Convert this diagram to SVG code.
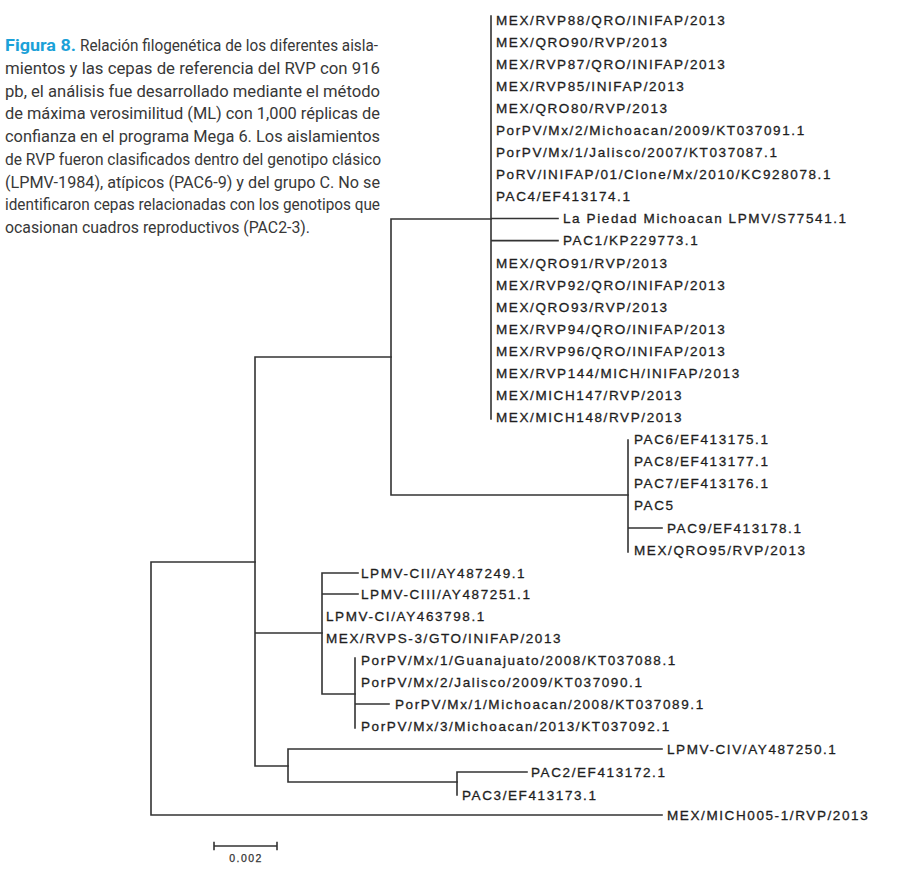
<svg xmlns="http://www.w3.org/2000/svg" width="898" height="872" viewBox="0 0 898 872">
<style>
.cap{font-family:Roboto,"Liberation Sans",sans-serif;font-size:16px;fill:#383838}
.fig{font-family:Roboto,"Liberation Sans",sans-serif;font-size:16.5px;font-weight:bold;fill:#1ba1d8}
.lb{font-family:"Liberation Sans",Arial,sans-serif;font-size:13.5px;letter-spacing:1.6px;fill:#1e1e1e;stroke:#1e1e1e;stroke-width:0.3}
.br{fill:none;stroke:#333;stroke-width:1.6;stroke-linecap:square}
.sc{font-family:"Liberation Sans",Arial,sans-serif;font-size:10.5px;letter-spacing:1.4px;fill:#333;stroke:#333;stroke-width:0.25}
</style>
<rect width="898" height="872" fill="#fff"/>
<g id="caption">
<text class="fig" x="5" y="51" textLength="71" lengthAdjust="spacingAndGlyphs">Figura 8.</text>
<text class="cap" x="80" y="51" textLength="298" lengthAdjust="spacingAndGlyphs">Relación filogenética de los diferentes aisla-</text>
<text class="cap" x="5" y="73.8" textLength="375" lengthAdjust="spacingAndGlyphs">mientos y las cepas de referencia del RVP con 916</text>
<text class="cap" x="5" y="96.5" textLength="375" lengthAdjust="spacingAndGlyphs">pb, el análisis fue desarrollado mediante el método</text>
<text class="cap" x="5" y="119.3" textLength="375" lengthAdjust="spacingAndGlyphs">de máxima verosimilitud (ML) con 1,000 réplicas de</text>
<text class="cap" x="5" y="142" textLength="375" lengthAdjust="spacingAndGlyphs">confianza en el programa Mega 6. Los aislamientos</text>
<text class="cap" x="5" y="164.8" textLength="376" lengthAdjust="spacingAndGlyphs">de RVP fueron clasificados dentro del genotipo clásico</text>
<text class="cap" x="5" y="187.5" textLength="375" lengthAdjust="spacingAndGlyphs">(LPMV-1984), atípicos (PAC6-9) y del grupo C. No se</text>
<text class="cap" x="5" y="210.3" textLength="375" lengthAdjust="spacingAndGlyphs">identificaron cepas relacionadas con los genotipos que</text>
<text class="cap" x="5" y="233" textLength="305" lengthAdjust="spacingAndGlyphs">ocasionan cuadros reproductivos (PAC2-3).</text>
</g>
<g id="connectors">
<path class="br" d="M151,562 V815 M151,562 H255 M151,815 H662"/>
<path class="br" d="M255,357 V766 M255,357 H391 M255,633 H322 M255,766 H288"/>
<path class="br" d="M391,219 V495 M391,219 H491 M391,495 H628"/>
<path class="br" d="M491,16 V419 M491,218.5 H558 M491,240.6 H558"/>
<path class="br" d="M628,440 V552 M628,528 H662"/>
<path class="br" d="M322,573 V694 M322,573 H358 M322,594 H358 M322,694 H355"/>
<path class="br" d="M355,658 V728 M355,704 H389"/>
<path class="br" d="M288,749 V782 M288,749 H662 M288,782 H457"/>
<path class="br" d="M457,772 V795 M457,772 H527"/>
</g>
<g id="leaves-top">
<g id="n1"><text class="lb" x="496" y="24.9">MEX/RVP88/QRO/INIFAP/2013</text></g>
<g id="n2"><text class="lb" x="496" y="46.9">MEX/QRO90/RVP/2013</text></g>
<g id="n3"><text class="lb" x="496" y="69">MEX/RVP87/QRO/INIFAP/2013</text></g>
<g id="n4"><text class="lb" x="496" y="91">MEX/RVP85/INIFAP/2013</text></g>
<g id="n5"><text class="lb" x="496" y="113.1">MEX/QRO80/RVP/2013</text></g>
<g id="n6"><text class="lb" x="496" y="135.2">PorPV/Mx/2/Michoacan/2009/KT037091.1</text></g>
<g id="n7"><text class="lb" x="496" y="157.2">PorPV/Mx/1/Jalisco/2007/KT037087.1</text></g>
<g id="n8"><text class="lb" x="496" y="179.3">PoRV/INIFAP/01/Clone/Mx/2010/KC928078.1</text></g>
<g id="n9"><text class="lb" x="496" y="201.3">PAC4/EF413174.1</text></g>
<g id="n10"><text class="lb" x="563" y="223.4">La Piedad Michoacan LPMV/S77541.1</text></g>
<g id="n11"><text class="lb" x="563" y="245.4">PAC1/KP229773.1</text></g>
<g id="n12"><text class="lb" x="496" y="267.5">MEX/QRO91/RVP/2013</text></g>
<g id="n13"><text class="lb" x="496" y="289.5">MEX/RVP92/QRO/INIFAP/2013</text></g>
<g id="n14"><text class="lb" x="496" y="311.6">MEX/QRO93/RVP/2013</text></g>
<g id="n15"><text class="lb" x="496" y="333.6">MEX/RVP94/QRO/INIFAP/2013</text></g>
<g id="n16"><text class="lb" x="496" y="355.7">MEX/RVP96/QRO/INIFAP/2013</text></g>
<g id="n17"><text class="lb" x="496" y="377.7">MEX/RVP144/MICH/INIFAP/2013</text></g>
<g id="n18"><text class="lb" x="496" y="399.8">MEX/MICH147/RVP/2013</text></g>
<g id="n19"><text class="lb" x="496" y="421.8">MEX/MICH148/RVP/2013</text></g>
</g>
<g id="leaves-pac">
<g id="n20"><text class="lb" x="634" y="444.1">PAC6/EF413175.1</text></g>
<g id="n21"><text class="lb" x="634" y="466.2">PAC8/EF413177.1</text></g>
<g id="n22"><text class="lb" x="634" y="488.3">PAC7/EF413176.1</text></g>
<g id="n23"><text class="lb" x="634" y="510.4">PAC5</text></g>
<g id="n24"><text class="lb" x="667" y="532.5">PAC9/EF413178.1</text></g>
<g id="n25"><text class="lb" x="634" y="554.6">MEX/QRO95/RVP/2013</text></g>
</g>
<g id="leaves-c">
<g id="n26"><text class="lb" x="361" y="577.6">LPMV-CII/AY487249.1</text></g>
<g id="n27"><text class="lb" x="361" y="598.6">LPMV-CIII/AY487251.1</text></g>
<g id="n28"><text class="lb" x="326" y="621.1">LPMV-CI/AY463798.1</text></g>
<g id="n29"><text class="lb" x="326" y="643.1">MEX/RVPS-3/GTO/INIFAP/2013</text></g>
<g id="n30"><text class="lb" x="361" y="665.1">PorPV/Mx/1/Guanajuato/2008/KT037088.1</text></g>
<g id="n31"><text class="lb" x="361" y="686.6">PorPV/Mx/2/Jalisco/2009/KT037090.1</text></g>
<g id="n32"><text class="lb" x="395" y="708.6">PorPV/Mx/1/Michoacan/2008/KT037089.1</text></g>
<g id="n33"><text class="lb" x="361" y="730.6">PorPV/Mx/3/Michoacan/2013/KT037092.1</text></g>
</g>
<g id="leaves-bottom">
<g id="n34"><text class="lb" x="667" y="753.6">LPMV-CIV/AY487250.1</text></g>
<g id="n35"><text class="lb" x="531" y="776.6">PAC2/EF413172.1</text></g>
<g id="n36"><text class="lb" x="462" y="799.6">PAC3/EF413173.1</text></g>
<g id="n37"><text class="lb" x="667" y="819.6">MEX/MICH005-1/RVP/2013</text></g>
</g>
<g id="scale">
<path class="br" d="M214,846 H277 M214,842.5 V849.5 M277,842.5 V849.5"/>
<text class="sc" x="246" y="862" text-anchor="middle">0.002</text>
</g>
</svg>
